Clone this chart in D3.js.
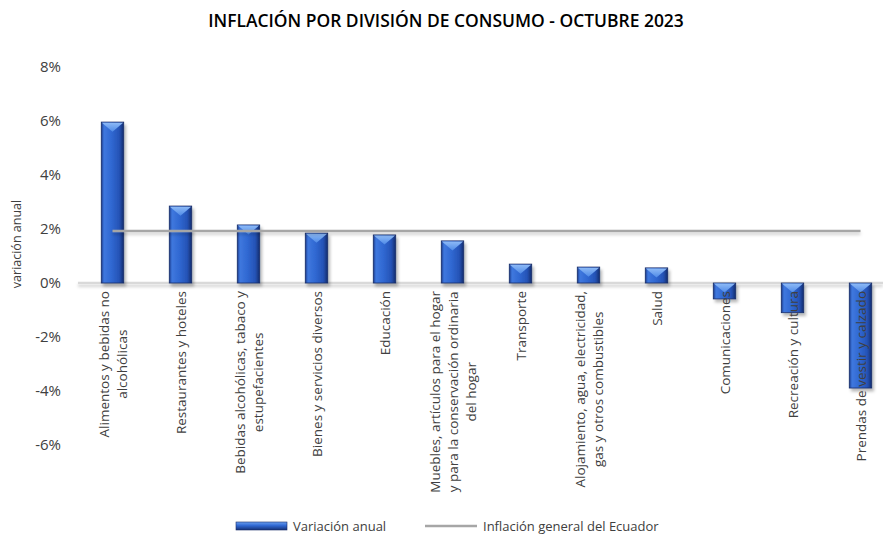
<!DOCTYPE html>
<html lang="es">
<head>
<meta charset="utf-8">
<title>Inflación por división de consumo - Octubre 2023</title>
<script src="https://cdn.jsdelivr.net/npm/d3@7"></script>
<style>
  html, body { margin: 0; padding: 0; background: #ffffff; }
  svg { display: block; }
</style>
</head>
<body>
<svg id="chart" width="883" height="535"></svg>
<script>
// Divisiones de consumo (las etiquetas usan "\n" para los saltos de línea)
const categories = [
  "Alimentos y bebidas no\nalcohólicas",
  "Restaurantes y hoteles",
  "Bebidas alcohólicas, tabaco y\nestupefacientes",
  "Bienes y servicios diversos",
  "Educación",
  "Muebles, artículos para el hogar\ny para la conservación ordinaria\ndel hogar",
  "Transporte",
  "Alojamiento, agua, electricidad,\ngas y otros combustibles",
  "Salud",
  "Comunicaciones",
  "Recreación y cultura",
  "Prendas de vestir y calzado"
];
// Variación anual por división (%)
const variacionAnual = [5.96, 2.85, 2.15, 1.85, 1.78, 1.56, 0.70, 0.59, 0.56, -0.59, -1.10, -3.89];
// Inflación general anual del Ecuador (%)
const inflacionGeneral = 1.93;
// Marcas del eje vertical (%)
const yTicks = [8, 6, 4, 2, 0, -2, -4, -6];

const FONT = "'Open Sans', 'DejaVu Sans', sans-serif";
const svg = d3.select("#chart");
const defs = svg.append("defs");

// Relleno del cuerpo de las barras
const gBar = defs.append("linearGradient").attr("id", "barFill")
  .attr("x1", "0").attr("x2", "1").attr("y1", "0").attr("y2", "0");
[["0%", "#1a3a8c"], ["12%", "#3f78de"], ["45%", "#3068d2"], ["80%", "#2553b6"], ["100%", "#142c6e"]]
  .forEach(([o, c]) => gBar.append("stop").attr("offset", o).attr("stop-color", c));

// Bisel superior
const gCap = defs.append("linearGradient").attr("id", "capFill")
  .attr("x1", "0").attr("x2", "0").attr("y1", "0").attr("y2", "1");
[["0%", "#8dbaf7"], ["100%", "#4f8ae6"]]
  .forEach(([o, c]) => gCap.append("stop").attr("offset", o).attr("stop-color", c));

// Relleno de la muestra de leyenda
const gLeg = defs.append("linearGradient").attr("id", "legFill")
  .attr("x1", "0").attr("x2", "0").attr("y1", "0").attr("y2", "1");
[["0%", "#6a9ff0"], ["45%", "#3068d2"], ["100%", "#163277"]]
  .forEach(([o, c]) => gLeg.append("stop").attr("offset", o).attr("stop-color", c));

// Sombras (región en coordenadas de usuario para que funcione con líneas horizontales)
const shadow = defs.append("filter").attr("id", "shadow")
  .attr("filterUnits", "userSpaceOnUse")
  .attr("x", 0).attr("y", 0).attr("width", 883).attr("height", 535);
shadow.append("feDropShadow").attr("dx", 2).attr("dy", 3).attr("stdDeviation", 1.8)
  .attr("flood-color", "#000").attr("flood-opacity", 0.28);
const lineShadow = defs.append("filter").attr("id", "lineShadow")
  .attr("filterUnits", "userSpaceOnUse")
  .attr("x", 0).attr("y", 0).attr("width", 883).attr("height", 535);
lineShadow.append("feDropShadow").attr("dx", 0).attr("dy", 2.5).attr("stdDeviation", 1.5)
  .attr("flood-color", "#000").attr("flood-opacity", 0.2);

// Escalas
const x = d3.scaleBand()
  .domain(categories)
  .range([78.5, 894.5])
  .paddingInner(0.67)
  .paddingOuter(0.335);

const y = d3.scaleLinear()
  .domain([-6, 8])
  .range([445, 67]);

// Título
const title = svg.append("text")
  .attr("x", 446).attr("y", 27)
  .attr("text-anchor", "middle")
  .attr("font-family", FONT)
  .attr("font-size", 17)
  .attr("font-weight", 600)
  .attr("fill", "#000")
  .text("INFLACIÓN POR DIVISIÓN DE CONSUMO - OCTUBRE 2023");
{
  const w = title.node().getComputedTextLength();
  title.attr("font-size", 17 * 476 / w);
}

// Eje vertical
const yAxis = svg.append("g")
  .attr("transform", "translate(61,0)")
  .call(d3.axisLeft(y).tickValues(yTicks).tickFormat(d => d + "%").tickSize(0).tickPadding(0));
yAxis.select(".domain").remove();
yAxis.selectAll("text")
  .attr("font-family", FONT)
  .attr("font-size", 15)
  .attr("fill", "#404040");

// Título del eje vertical
svg.append("text")
  .attr("transform", `translate(21,${244}) rotate(-90)`)
  .attr("text-anchor", "middle")
  .attr("font-family", FONT)
  .attr("font-size", 12.5)
  .attr("fill", "#404040")
  .text("variación anual");

// Línea de cero
svg.append("line")
  .attr("x1", 78).attr("x2", 883)
  .attr("y1", y(0)).attr("y2", y(0))
  .attr("stroke", "#d9d9d9").attr("stroke-width", 2.5)
  .attr("filter", "url(#lineShadow)");

// Barras
const bars = svg.append("g").selectAll("g.bar")
  .data(categories.map((c, i) => ({ c, v: variacionAnual[i] })))
  .join("g").attr("class", "bar")
  .attr("filter", "url(#shadow)");

bars.append("rect")
  .attr("x", d => x(d.c))
  .attr("width", x.bandwidth())
  .attr("y", d => y(Math.max(0, d.v)))
  .attr("height", d => Math.abs(y(d.v) - y(0)))
  .attr("fill", "url(#barFill)")
  .attr("stroke", "#1a2d68")
  .attr("stroke-width", 0.8);

bars.append("path")
  .attr("d", d => {
    const x0 = x(d.c) + 0.6, x1 = x(d.c) + x.bandwidth() - 0.6;
    const top = y(Math.max(0, d.v)) + 0.6;
    const h = Math.min(9, Math.abs(y(d.v) - y(0)) - 1);
    return `M${x0},${top}L${x1},${top}L${(x0 + x1) / 2},${top + h}Z`;
  })
  .attr("fill", "url(#capFill)");

// Línea de inflación general
svg.append("line")
  .attr("x1", x(categories[0]) + x.bandwidth() / 2)
  .attr("x2", x(categories[categories.length - 1]) + x.bandwidth() / 2)
  .attr("y1", y(inflacionGeneral)).attr("y2", y(inflacionGeneral))
  .attr("stroke", "#a6a6a6").attr("stroke-width", 2.5)
  .attr("filter", "url(#lineShadow)");

// Etiquetas de categorías (verticales, líneas centradas entre sí)
const lineH = 18;
svg.append("g").selectAll("g.lab")
  .data(categories)
  .join("g").attr("class", "lab")
  .each(function (c) {
    const lines = c.split("\n");
    const g = d3.select(this);
    const cx = x(c) + x.bandwidth() / 2;
    const texts = lines.map(l => g.append("text")
      .attr("font-family", FONT)
      .attr("font-size", 13.5)
      .attr("fill", "#404040")
      .attr("text-anchor", "middle")
      .text(l));
    const maxW = d3.max(texts, t => t.node().getComputedTextLength());
    const top = y(0) + 8;
    texts.forEach((t, i) => {
      const lx = cx + (i - (lines.length - 1) / 2) * lineH + 5;
      const ly = top + maxW / 2;
      t.attr("transform", `translate(${lx},${ly}) rotate(-90)`);
    });
  });

// Leyenda
const legend = svg.append("g").attr("transform", "translate(0,526)");
legend.append("rect")
  .attr("x", 236).attr("y", -4).attr("width", 51).attr("height", 8)
  .attr("fill", "url(#legFill)").attr("stroke", "#1a2d68").attr("stroke-width", 0.6);
legend.append("text")
  .attr("x", 293).attr("y", 4.5)
  .attr("font-family", FONT).attr("font-size", 13).attr("fill", "#404040")
  .text("Variación anual");
legend.append("line")
  .attr("x1", 425).attr("x2", 477).attr("y1", 0).attr("y2", 0)
  .attr("stroke", "#a6a6a6").attr("stroke-width", 2.5);
legend.append("text")
  .attr("x", 483).attr("y", 4.5)
  .attr("font-family", FONT).attr("font-size", 13).attr("fill", "#404040")
  .text("Inflación general del Ecuador");
</script>
</body>
</html>
